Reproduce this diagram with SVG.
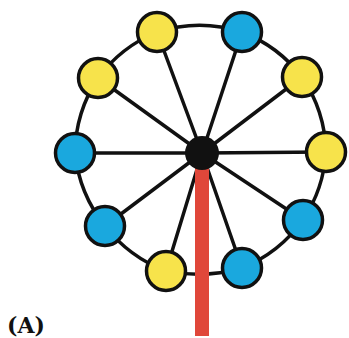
<svg xmlns="http://www.w3.org/2000/svg" width="349" height="338" viewBox="0 0 349 338">
<style>
.sp{stroke:#111;stroke-width:3.5;fill:none;stroke-linecap:round}
.rim{stroke:#111;stroke-width:3.5;fill:none}
.y{fill:#F7E34B;stroke:#111;stroke-width:3.5}
.b{fill:#1AA8DE;stroke:#111;stroke-width:3.5}
.lbl{font-family:"DejaVu Serif",serif;font-weight:bold;font-size:22px;fill:#111}
</style>
<rect width="349" height="338" fill="#fff"/>
<g id="connectors">
<line class="sp" x1="202" y1="153" x2="157" y2="32"/>
<line class="sp" x1="202" y1="153" x2="242" y2="32"/>
<line class="sp" x1="202" y1="153" x2="302" y2="77"/>
<line class="sp" x1="202" y1="153" x2="326" y2="152"/>
<line class="sp" x1="202" y1="153" x2="303" y2="220"/>
<line class="sp" x1="202" y1="153" x2="242" y2="268"/>
<line class="sp" x1="202" y1="153" x2="166" y2="271"/>
<line class="sp" x1="202" y1="153" x2="105" y2="226"/>
<line class="sp" x1="202" y1="153" x2="75" y2="153"/>
<line class="sp" x1="202" y1="153" x2="98" y2="78"/>
<path class="rim" d="M157,32 A140,140 0 0 1 242,32 A140,140 0 0 1 302,77 A140,140 0 0 1 326,152 A140,140 0 0 1 303,220 A140,140 0 0 1 242,268 A160,160 0 0 1 166,271 A140,140 0 0 1 105,226 A140,140 0 0 1 75,153 A140,140 0 0 1 98,78 A140,140 0 0 1 157,32 Z"/>
</g>
<g id="n1"><circle class="y" cx="157" cy="32" r="19.5"/></g>
<g id="n2"><circle class="b" cx="242" cy="32" r="19.5"/></g>
<g id="n3"><circle class="y" cx="302" cy="77" r="19.5"/></g>
<g id="n4"><circle class="y" cx="326" cy="152" r="19.5"/></g>
<g id="n5"><circle class="b" cx="303" cy="220" r="19.5"/></g>
<g id="n6"><circle class="b" cx="242" cy="268" r="19.5"/></g>
<g id="n7"><circle class="y" cx="166" cy="271" r="19.5"/></g>
<g id="n8"><circle class="b" cx="105" cy="226" r="19.5"/></g>
<g id="n9"><circle class="b" cx="75" cy="153" r="19.5"/></g>
<g id="n10"><circle class="y" cx="98" cy="78" r="19.5"/></g>
<g id="pole"><rect x="195" y="165" width="14" height="171" fill="#E0473A"/></g>
<g id="hub"><circle cx="202" cy="153" r="17" fill="#111"/></g>
<text class="lbl" x="7" y="333">(A)</text>
</svg>
